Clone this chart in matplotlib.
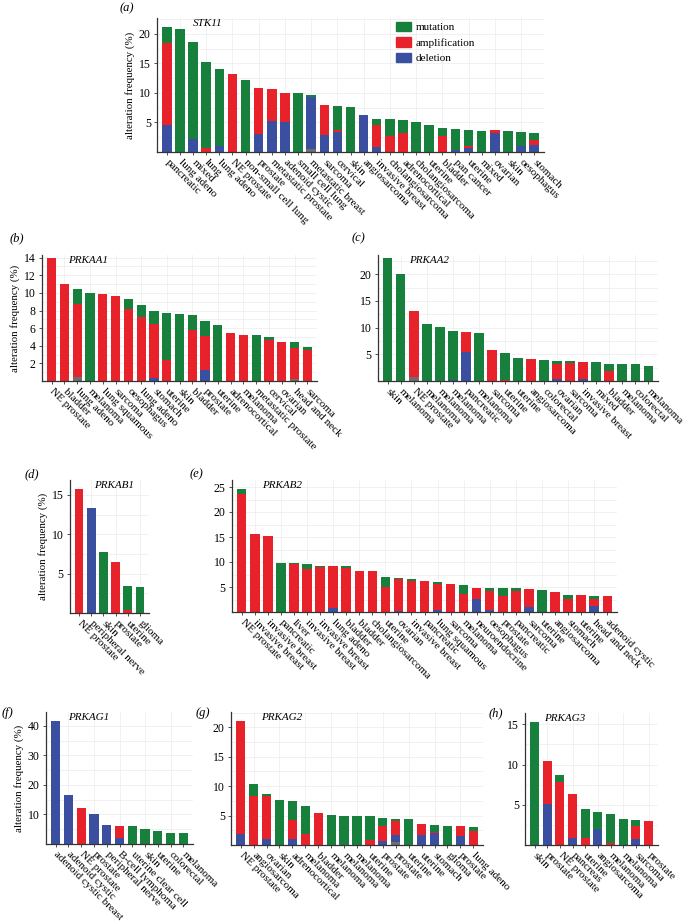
import matplotlib
matplotlib.use("Agg")
import matplotlib.pyplot as plt
import numpy as np
from matplotlib.patches import Patch

plt.rcParams["font.family"] = ["Liberation Serif", "DejaVu Serif"]

GREEN = "#17803c"
RED = "#e8222a"
BLUE = "#3a4f9f"
GREY = "#6e6e6e"

# ---- (a) STK11 ----
stk11_labels = ["pancreatic", "lung adeno", "mixed", "lung", "lung adeno", "NE prostate",
                "non-small cell lung", "prostate", "metastatic prostate", "adenoid cystic",
                "small cell lung", "metastatic breast", "sarcoma", "cervical", "skin",
                "angiosarcoma", "invasive breast", "cholangiosarcoma", "adrenocortical",
                "cholangiosarcoma", "uterine", "bladder", "pan cancer", "uterine", "mixed",
                "ovarian", "skin", "oesophagus", "stomach"]
stk11_other = [0, 0, 0, 0, 0, 0, 0, 0, 0, 0, 0, 0.45, 0, 0, 0, 0, 0, 0, 0, 0, 0, 0, 0, 0, 0, 0, 0, 0, 0]
stk11_del = [4.6, 0, 2.2, 0, 1.1, 0, 0, 3.1, 5.3, 5.0, 0, 8.85, 2.8, 3.35, 0, 6.2, 0.9, 0, 0,
             0, 0, 0, 0.35, 0.6, 0, 3.25, 0, 1.1, 1.2]
stk11_amp = [13.8, 0, 0, 0.7, 0, 13.2, 0, 7.7, 5.3, 5.0, 0, 0, 5.1, 0.4, 0, 0, 3.75, 2.75, 3.3,
             0, 0, 2.75, 0, 0.5, 0, 0.4, 0, 0, 0.9]
stk11_mut = [2.7, 20.9, 16.5, 14.6, 13.0, 0, 12.2, 0, 0, 0, 10.0, 0.4, 0, 4.0, 7.7, 0, 0.9, 2.8,
             2.1, 5.0, 4.5, 1.4, 3.5, 2.7, 3.6, 0, 3.5, 2.25, 1.1]

# ---- (b) PRKAA1 ----
prkaa1_labels = ["NE prostate", "bladder", "lung adeno", "melanoma", "lung squamous", "sarcoma",
                 "oesophagus", "lung adeno", "stomach", "uterine", "skin", "bladder", "prostate",
                 "uterine", "adrenocortical", "melanoma", "metastatic prostate", "cervical",
                 "ovarian", "head and neck", "sarcoma"]
prkaa1_other = [0, 0, 0.5, 0, 0, 0, 0, 0, 0, 0, 0, 0, 0, 0, 0, 0, 0, 0, 0, 0.2, 0]
prkaa1_del = [0, 0, 0, 0, 0, 0, 0, 0, 0.3, 0, 0, 0, 1.2, 0, 0, 0, 0, 0, 0, 0, 0]
prkaa1_amp = [14.0, 11.05, 8.2, 0, 9.85, 9.7, 8.2, 7.25, 6.2, 2.4, 0, 5.8, 3.9, 0, 5.45, 5.25,
              0, 4.7, 4.45, 3.6, 3.5]
prkaa1_mut = [0, 0, 1.7, 10.0, 0, 0, 1.1, 1.35, 1.4, 5.3, 7.65, 1.7, 1.7, 6.3, 0, 0, 5.25, 0.3,
              0, 0.6, 0.4]

# ---- (c) PRKAA2 ----
prkaa2_labels = ["skin", "melanoma", "NE prostate", "melanoma", "melanoma", "melanoma",
                 "pancreatic", "melanoma", "sarcoma", "uterine", "uterine", "angiosarcoma",
                 "colorectal", "ovarian", "sarcoma", "invasive breast", "mixed", "bladder",
                 "melanoma", "colorectal", "melanoma"]
prkaa2_other = [0, 0, 0.75, 0, 0, 0, 0, 0, 0, 0, 0, 0, 0, 0, 0, 0, 0, 0, 0, 0, 0]
prkaa2_del = [0, 0, 0, 0, 0, 0.25, 5.4, 0, 0, 0, 0, 0, 0, 0.4, 0, 0.3, 0, 0, 0, 0, 0]
prkaa2_amp = [0, 0, 12.35, 0, 0, 0, 3.7, 0, 5.75, 0.25, 0, 4.05, 0, 2.7, 3.3, 3.25, 0, 1.9, 0, 0, 0]
prkaa2_mut = [23.1, 20.0, 0, 10.7, 10.2, 9.05, 0, 8.9, 0, 4.95, 4.4, 0, 3.95, 0.65, 0.45, 0,
              3.5, 1.35, 3.25, 3.1, 2.9]

# ---- (d) PRKAB1 ----
prkab1_labels = ["NE prostate", "peripheral nerve", "skin", "prostate", "uterine", "glioma"]
prkab1_del = [0, 13.3, 0, 0, 0, 0]
prkab1_amp = [15.7, 0, 0, 6.5, 0.4, 0]
prkab1_mut = [0, 0, 7.7, 0, 3.0, 3.3]

# ---- (e) PRKAB2 ----
prkab2_labels = ["NE prostate", "invasive breast", "invasive breast", "pancreatic", "liver",
                 "invasive breast", "invasive breast", "lung adeno", "bladder", "bladder",
                 "cholangiosarcoma", "uterine", "ovarian", "invasive breast", "pancreatic",
                 "lung squamous", "sarcoma", "melanoma", "neuroendocrine", "oesophagus",
                 "prostate", "pancreatic", "sarcoma", "uterine", "angiosarcoma", "stomach",
                 "uterine", "head and neck", "adenoid cystic"]
prkab2_del = [0, 0, 0, 0, 0, 0, 0, 0.9, 0, 0, 0, 0, 0.3, 0, 0, 0.5, 0, 0, 2.7, 0.5, 0, 0, 1.1,
              0, 0, 0, 0, 1.3, 0]
prkab2_amp = [23.7, 15.7, 15.3, 0, 9.6, 8.7, 9.1, 8.4, 8.9, 8.3, 8.3, 5.0, 6.4, 6.3, 6.3, 5.1,
              5.7, 3.7, 2.2, 3.8, 3.2, 4.3, 3.5, 0, 4.1, 2.6, 3.4, 1.4, 3.2]
prkab2_mut = [0.9, 0, 0, 9.9, 0.3, 1.0, 0.2, 0, 0.3, 0, 0, 2.1, 0.2, 0.4, 0, 0.5, 0, 1.8, 0,
              0.6, 1.6, 0.5, 0, 4.4, 0, 0.9, 0, 0.6, 0]

# ---- (f) PRKAG1 ----
prkag1_labels = ["adenoid cystic breast", "adenoid cystic", "NE prostate", "prostate",
                 "peripheral nerve", "B-cell lymphoma", "uterine clear cell", "skin", "uterine",
                 "colorectal", "melanoma"]
prkag1_del = [41.6, 16.5, 0, 10.3, 6.4, 2.0, 0, 0, 0, 0, 0]
prkag1_amp = [0, 0, 12.2, 0, 0, 4.2, 0, 0, 0, 0, 0]
prkag1_mut = [0, 0, 0, 0, 0, 0, 6.1, 5.1, 4.4, 3.8, 3.7]

# ---- (g) PRKAG2 ----
prkag2_labels = ["NE prostate", "angiosarcoma", "ovarian", "skin", "adrenocortical", "melanoma",
                 "bladder", "melanoma", "melanoma", "melanoma", "uterine", "prostate", "prostate",
                 "uterine", "uterine", "stomach", "glioma", "prostate", "lung adeno"]
prkag2_other = [0, 0, 0, 0, 0, 0, 0, 0, 0, 0, 0, 0, 0.5, 0, 0, 0, 0, 0, 0]
prkag2_del = [1.8, 0, 1.0, 0, 1.0, 0, 0, 0, 0, 0, 0, 0.7, 1.2, 0, 1.7, 2.0, 0, 1.5, 0]
prkag2_amp = [19.25, 8.3, 7.3, 0, 3.3, 1.9, 5.5, 0, 0, 0, 0.9, 2.6, 2.3, 0, 1.8, 0.2, 0, 1.7, 2.3]
prkag2_mut = [0, 2.1, 0.4, 7.7, 3.2, 4.8, 0, 5.1, 5.0, 4.9, 4.0, 1.3, 0.5, 4.5, 0, 1.2, 3.2, 0, 0.7]

# ---- (h) PRKAG3 ----
prkag3_labels = ["skin", "prostate", "NE prostate", "pancreas", "uterine", "angiosarcoma",
                 "melanoma", "melanoma", "sarcoma", "prostate"]
prkag3_del = [0, 5.1, 0, 0.9, 0, 2.0, 0, 0, 0.7, 0]
prkag3_amp = [0, 5.35, 7.85, 5.4, 0.9, 0, 0.2, 0, 1.6, 3.0]
prkag3_mut = [15.3, 0, 0.85, 0, 3.6, 2.1, 3.7, 3.2, 0.8, 0]

FW, FH = 686, 924
fig = plt.figure(figsize=(FW / 100, FH / 100), dpi=100)


def px_axes(left, top, right, bottom):
    return fig.add_axes([left / FW, 1 - bottom / FH, (right - left) / FW, (bottom - top) / FH])


def panel(box, labels, dele, amp, mut, other=None, ymax=10, yticks=(), gene="", gx=0.1,
          ylabel=False, letter="", lpos=(0, 0)):
    ax = px_axes(*box)
    n = len(labels)
    x = np.arange(n)
    if other is None:
        other = np.zeros(n)
    bottom = np.zeros(n)
    for seg, col in [(other, GREY), (dele, BLUE), (amp, RED), (mut, GREEN)]:
        seg = np.asarray(seg, dtype=float)
        ax.bar(x, seg, 0.72, bottom=bottom, color=col, linewidth=0, zorder=2)
        bottom = bottom + seg
    ax.set_xlim(-0.75, n - 0.25)
    ax.set_ylim(0, ymax)
    # faint background grid
    step = yticks[1] - yticks[0]
    for yv in np.arange(step / 2, ymax, step / 2):
        ax.axhline(yv, color="#efefef", lw=0.6, zorder=0)
    for xv in x[1::2]:
        ax.axvline(xv, color="#efefef", lw=0.6, zorder=0)
    ax.set_xticks(x)
    ax.set_xticklabels(labels, rotation=-45, ha="left", va="center",
                       rotation_mode="anchor", fontsize=8)
    ax.set_yticks(yticks)
    ax.set_yticklabels([str(t) for t in yticks], fontsize=8.5)
    ax.tick_params(axis="both", direction="out", length=2.5, width=0.6, color="#333333",
                   pad=2)
    ax.tick_params(axis="x", pad=4)
    for s in ["top", "right"]:
        ax.spines[s].set_visible(False)
    for s in ["left", "bottom"]:
        ax.spines[s].set_color("#333333")
        ax.spines[s].set_linewidth(0.9)
    ax.text(gx, 0.99, gene, transform=ax.transAxes, style="italic", fontsize=8,
            va="top", ha="left")
    if ylabel:
        ax.set_ylabel("alteration frequency (%)", fontsize=7.8, labelpad=3)
    fig.text(lpos[0] / FW, 1 - lpos[1] / FH, letter, style="italic", fontsize=9,
             va="top", ha="left")
    return ax


ax_a = panel((157, 18, 544, 152), stk11_labels, stk11_del, stk11_amp, stk11_mut, stk11_other,
             ymax=22.7, yticks=[5, 10, 15, 20], gene="STK11", gx=0.093, ylabel=True,
             letter="(a)", lpos=(120, 2))
handles = [Patch(color=GREEN), Patch(color=RED), Patch(color=BLUE)]
ax_a.legend(handles, ["mutation", "amplification", "deletion"], loc="upper left",
            bbox_to_anchor=(396 / FW, 1 - 22 / FH), bbox_transform=fig.transFigure,
            frameon=False, fontsize=8, handlelength=1.35, handleheight=0.9,
            handletextpad=0.45, labelspacing=0.45, borderpad=0, borderaxespad=0)

panel((42, 255, 317, 381), prkaa1_labels, prkaa1_del, prkaa1_amp, prkaa1_mut, prkaa1_other,
      ymax=14.3, yticks=[2, 4, 6, 8, 10, 12, 14], gene="PRKAA1", gx=0.095, ylabel=True,
      letter="(b)", lpos=(10, 232))
panel((378, 255, 658, 381), prkaa2_labels, prkaa2_del, prkaa2_amp, prkaa2_mut, prkaa2_other,
      ymax=23.6, yticks=[5, 10, 15, 20], gene="PRKAA2", gx=0.11,
      letter="(c)", lpos=(352, 232))
panel((70, 480, 149, 613), prkab1_labels, prkab1_del, prkab1_amp, prkab1_mut,
      ymax=16.9, yticks=[5, 10, 15], gene="PRKAB1", gx=0.30, ylabel=True,
      letter="(d)", lpos=(25, 468))
panel((232, 480, 617, 612), prkab2_labels, prkab2_del, prkab2_amp, prkab2_mut,
      ymax=26.4, yticks=[5, 10, 15, 20, 25], gene="PRKAB2", gx=0.077,
      letter="(e)", lpos=(190, 468))
panel((46, 712, 193, 844), prkag1_labels, prkag1_del, prkag1_amp, prkag1_mut,
      ymax=44.7, yticks=[10, 20, 30, 40], gene="PRKAG1", gx=0.15, ylabel=True,
      letter="(f)", lpos=(2, 707))
panel((231, 712, 483, 845), prkag2_labels, prkag2_del, prkag2_amp, prkag2_mut, prkag2_other,
      ymax=22.6, yticks=[5, 10, 15, 20], gene="PRKAG2", gx=0.12,
      letter="(g)", lpos=(196, 707))
panel((525, 713, 658, 845), prkag3_labels, prkag3_del, prkag3_amp, prkag3_mut,
      ymax=16.4, yticks=[5, 10, 15], gene="PRKAG3", gx=0.14,
      letter="(h)", lpos=(489, 707))

fig.savefig("out.png", dpi=100)
